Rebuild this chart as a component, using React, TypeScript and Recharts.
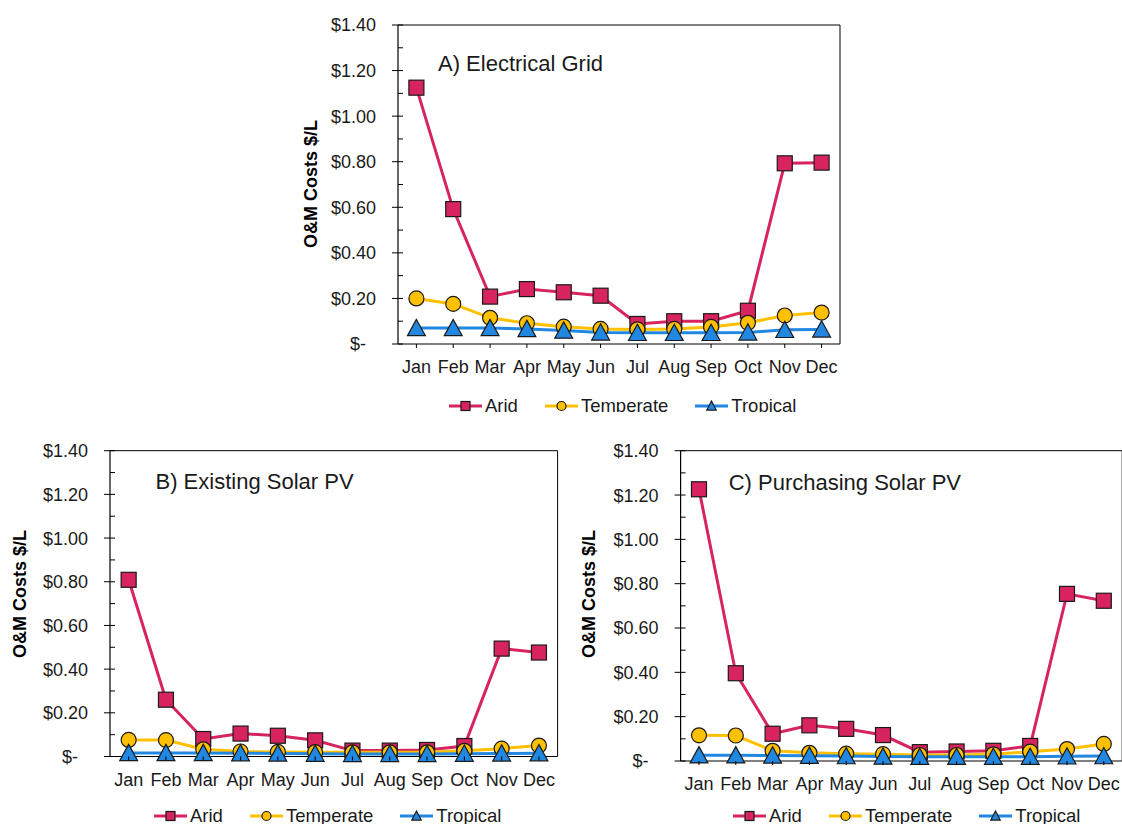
import React from 'react';
import { LineChart, Line, XAxis, YAxis, Legend } from 'recharts';

// Monthly O&M costs ($/L)
const months = ['Jan', 'Feb', 'Mar', 'Apr', 'May', 'Jun', 'Jul', 'Aug', 'Sep', 'Oct', 'Nov', 'Dec'];
const yTicks = [0, 0.1, 0.2, 0.3, 0.4, 0.5, 0.6, 0.7, 0.8, 0.9, 1.0, 1.1, 1.2, 1.3, 1.4];
const seriesNames = ['Arid', 'Temperate', 'Tropical'];

// A) Electrical Grid
const gridArid = [1.125, 0.592, 0.208, 0.241, 0.227, 0.212, 0.088, 0.1, 0.1, 0.146, 0.793, 0.796];
const gridTemperate = [0.2, 0.176, 0.115, 0.091, 0.076, 0.066, 0.064, 0.066, 0.075, 0.093, 0.125, 0.138];
const gridTropical = [0.07, 0.07, 0.07, 0.066, 0.059, 0.051, 0.049, 0.049, 0.049, 0.051, 0.062, 0.064];

// B) Existing Solar PV
const existingArid = [0.809, 0.26, 0.08, 0.105, 0.095, 0.074, 0.027, 0.027, 0.03, 0.048, 0.494, 0.476];
const existingTemperate = [0.076, 0.075, 0.033, 0.023, 0.021, 0.02, 0.019, 0.019, 0.019, 0.026, 0.036, 0.05];
const existingTropical = [0.016, 0.016, 0.016, 0.015, 0.014, 0.013, 0.012, 0.012, 0.012, 0.013, 0.014, 0.015];

// C) Purchasing Solar PV
const purchaseArid = [1.226, 0.396, 0.123, 0.161, 0.145, 0.117, 0.04, 0.043, 0.046, 0.068, 0.754, 0.723];
const purchaseTemperate = [0.116, 0.115, 0.046, 0.037, 0.033, 0.031, 0.027, 0.027, 0.03, 0.042, 0.054, 0.077];
const purchaseTropical = [0.026, 0.026, 0.025, 0.024, 0.022, 0.02, 0.019, 0.019, 0.019, 0.019, 0.021, 0.022];

const FONT = '"Liberation Sans", Arial, Helvetica, sans-serif';
const TEXT = '#1a1a1a';
const COLORS: { [k: string]: string } = { Arid: '#D7245E', Temperate: '#FFC000', Tropical: '#2187E0' };
const SHAPES: { [k: string]: string } = { Arid: 'square', Temperate: 'circle', Tropical: 'triangle' };

const buildRows = (arid: number[], temperate: number[], tropical: number[]) =>
  months.map((m, i) => ({ month: m, Arid: arid[i], Temperate: temperate[i], Tropical: tropical[i] }));

const Marker: React.FC<{ shape: string; cx: number; cy: number; size: number; fill: string }> = ({ shape, cx, cy, size, fill }) => {
  const s = size / 2;
  if (shape === 'square') {
    return <rect x={cx - s} y={cy - s} width={size} height={size} fill={fill} stroke="#1a1a1a" strokeWidth={1.2} />;
  }
  if (shape === 'circle') {
    return <circle cx={cx} cy={cy} r={s} fill={fill} stroke="#1a1a1a" strokeWidth={1.2} />;
  }
  const h = size * 0.9;
  const w = size * 1.05;
  return (
    <polygon
      points={`${cx},${cy - h / 2 - 1} ${cx - w / 2},${cy + h / 2} ${cx + w / 2},${cy + h / 2}`}
      fill={fill}
      stroke="#1a1a1a"
      strokeWidth={1.2}
      strokeLinejoin="miter"
    />
  );
};

// y ticks cross the axis on the labelled values, sit inside on the others
const YTick = (props: any) => {
  const { x, y, payload } = props;
  const v = payload.value;
  const major = Math.round(v * 10) % 2 === 0;
  return (
    <g>
      <line x1={major ? x - 6 : x} x2={x + 5} y1={y} y2={y} stroke="#000" strokeWidth={1} />
      {major && (
        <text x={v === 0 ? x - 32 : x - 22} y={y} dy="0.36em" textAnchor="end" fontSize={18} fontFamily={FONT} fill={TEXT}>
          {v === 0 ? '$-' : `$${v.toFixed(2)}`}
        </text>
      )}
    </g>
  );
};

const XTick = (props: any) => {
  const { x, y, payload } = props;
  return (
    <g>
      <line x1={x} x2={x} y1={y} y2={y + 4} stroke="#000" strokeWidth={1} />
      <text x={x} y={y + 29} textAnchor="middle" fontSize={18} fontFamily={FONT} fill={TEXT}>
        {payload.value}
      </text>
    </g>
  );
};

const LegendRow = () => (
  <div style={{ display: 'flex', alignItems: 'center', height: 20, fontFamily: FONT, fontSize: 18.5, color: TEXT, whiteSpace: 'nowrap' }}>
    {seriesNames.map((name, i) => (
      <div key={name} style={{ display: 'flex', alignItems: 'center', marginLeft: i ? 27 : 0 }}>
        <svg width={33} height={16} style={{ display: 'block' }}>
          <line x1={0} x2={33} y1={8} y2={8} stroke={COLORS[name]} strokeWidth={3} />
          <Marker shape={SHAPES[name]} cx={16.5} cy={8} size={9} fill={COLORS[name]} />
        </svg>
        <span style={{ marginLeft: 3 }}>{name}</span>
      </div>
    ))}
  </div>
);

interface PanelProps {
  rows: any[];
  title: string;
  box: { left: number; top: number; width: number; height: number };
  chartWidth: number;
  margin: { top: number; right: number; bottom: number; left: number };
  yAxisWidth: number;
  pad: number;
  titlePos: [number, number];
  yLabelPos: [number, number];
  legendPos: [number, number];
}

const Panel: React.FC<PanelProps> = ({ rows, title, box, chartWidth, margin, yAxisWidth, pad, titlePos, yLabelPos, legendPos }) => (
  <div style={{ position: 'absolute', ...box, overflow: 'hidden' }}>
    {/* top axis (1px high) and right axis (1px wide) only draw the plot frame */}
    <LineChart width={chartWidth} height={box.height} data={rows} margin={{ ...margin, top: margin.top - 1, right: margin.right - 1 }}>
      <XAxis
        dataKey="month"
        height={30}
        interval={0}
        padding={{ left: pad, right: pad }}
        tickSize={0}
        tickMargin={0}
        tick={<XTick />}
        tickLine={false}
        axisLine={{ stroke: '#000', strokeWidth: 1.2 }}
      />
      <XAxis xAxisId="top" dataKey="month" orientation="top" height={1} tick={false} tickLine={false} axisLine={{ stroke: '#000', strokeWidth: 1 }} />
      <YAxis
        type="number"
        domain={[0, 1.4]}
        ticks={yTicks}
        width={yAxisWidth}
        interval={0}
        tickSize={0}
        tickMargin={0}
        tick={<YTick />}
        tickLine={false}
        axisLine={{ stroke: '#000', strokeWidth: 1.2 }}
      />
      <YAxis yAxisId="right" orientation="right" type="number" domain={[0, 1.4]} width={1} tick={false} tickLine={false} axisLine={{ stroke: '#000', strokeWidth: 1 }} />
      {seriesNames.map((name) => (
        <Line
          key={name}
          type="linear"
          dataKey={name}
          stroke={COLORS[name]}
          strokeWidth={3}
          isAnimationActive={false}
          activeDot={false}
          dot={(p: any) => (
            <Marker key={`${name}-${p.index}`} shape={SHAPES[name]} cx={p.cx} cy={p.cy} size={name === 'Tropical' ? 17 : 15} fill={COLORS[name]} />
          )}
        />
      ))}
      <text x={titlePos[0]} y={titlePos[1]} fontSize={22} fontFamily={FONT} fill={TEXT}>
        {title}
      </text>
      <text
        x={yLabelPos[0]}
        y={yLabelPos[1]}
        transform={`rotate(-90 ${yLabelPos[0]} ${yLabelPos[1]})`}
        textAnchor="middle"
        dy="0.36em"
        fontSize={18}
        fontWeight={700}
        fontFamily={FONT}
        fill="#000"
      >
        O&amp;M Costs $/L
      </text>
      <Legend
        layout="horizontal"
        verticalAlign="middle"
        align="center"
        content={<LegendRow />}
        wrapperStyle={{ left: legendPos[0], top: legendPos[1], width: 420, height: 20 }}
      />
    </LineChart>
  </div>
);

export default function App() {
  return (
    <div style={{ position: 'absolute', left: 0, top: 0, width: 1122, height: 824, background: '#fff', overflow: 'hidden', fontFamily: FONT }}>
      <Panel
        rows={buildRows(gridArid, gridTemperate, gridTropical)}
        title="A) Electrical Grid"
        box={{ left: 290, top: 0, width: 560, height: 412 }}
        chartWidth={560}
        margin={{ top: 25, right: 10, bottom: 38, left: 0 }}
        yAxisWidth={108}
        pad={18.4}
        titlePos={[148, 70.5]}
        yLabelPos={[21, 184]}
        legendPos={[159, 395.7]}
      />
      <Panel
        rows={buildRows(existingArid, existingTemperate, existingTropical)}
        title="B) Existing Solar PV"
        box={{ left: 0, top: 412, width: 570, height: 412 }}
        chartWidth={570}
        margin={{ top: 38.7, right: 12.4, bottom: 37.5, left: 0 }}
        yAxisWidth={110}
        pad={18.65}
        titlePos={[155.5, 77]}
        yLabelPos={[20, 182]}
        legendPos={[154, 393.7]}
      />
      <Panel
        rows={buildRows(purchaseArid, purchaseTemperate, purchaseTropical)}
        title="C) Purchasing Solar PV"
        box={{ left: 570, top: 412, width: 552, height: 412 }}
        chartWidth={560}
        margin={{ top: 38.7, right: 7.8, bottom: 33, left: 0 }}
        yAxisWidth={110.6}
        pad={18.4}
        titlePos={[158.7, 77.5]}
        yLabelPos={[19, 182]}
        legendPos={[163, 393.7]}
      />
    </div>
  );
}
